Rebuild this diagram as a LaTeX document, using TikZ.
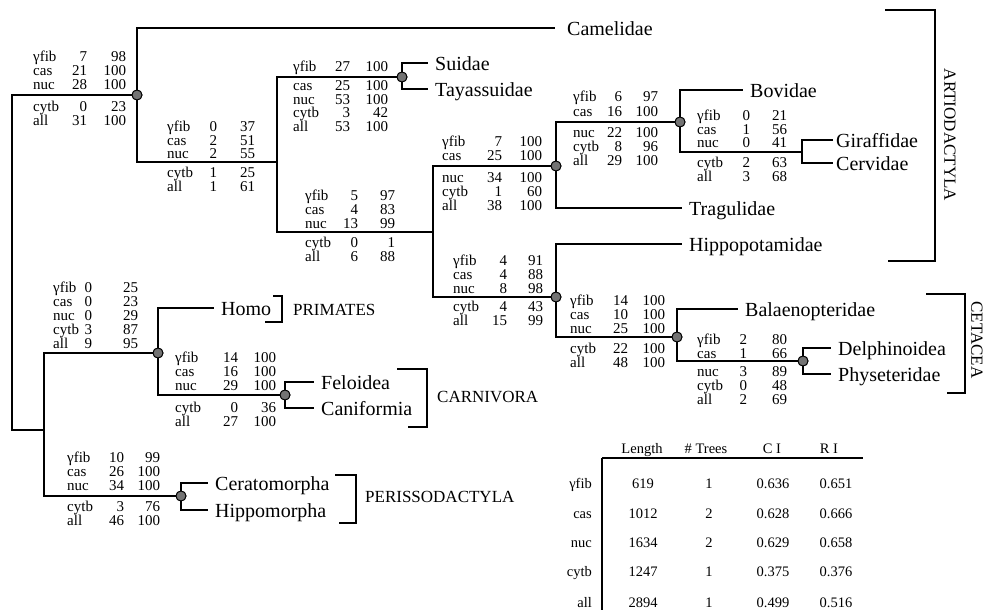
\documentclass[tikz,border=0pt]{standalone}
\usepackage{fontspec}
\setmainfont{Liberation Serif}
\newlength\statA
\newlength\statB
\newcommand\srow[3]{\hbox{\makebox[0pt][l]{#1}\hspace*{\statA}\makebox[0pt][r]{#2}\hspace*{\statB}\makebox[0pt][r]{#3}}}
\newcommand\stk[3]{\setlength\statA{#1pt}\setlength\statB{#2pt}\addtolength\statB{-#1pt}\vtop{\baselineskip=14pt\lineskiplimit=-100pt\lineskip=0pt #3}}
\tikzset{
  br/.style={line width=2.4pt},
  inode/.style={circle, draw=black, fill=black!55, line width=0.9pt, minimum size=10pt, inner sep=0pt},
  leaf/.style={font=\fontsize{20}{22}\selectfont, anchor=west, inner xsep=7pt, inner ysep=0pt, text height=15pt, text depth=0pt},
  grp/.style={font=\fontsize{17}{19}\selectfont, anchor=west, inner sep=0pt, text height=11.3pt, text depth=0pt},
  stat/.style={font=\fontsize{15}{14}\selectfont, anchor=base west, inner sep=0pt},
  brk/.style={line width=1.3pt},
  tab/.style={font=\fontsize{14.5}{16}\selectfont, inner sep=0pt, anchor=base},
}
\begin{document}
\begin{tikzpicture}[x=1pt,y=-1pt]
\useasboundingbox (0,0) rectangle (983,610);
% internal nodes
\coordinate (root) at (12,262);
\node[inode] (A) at (137,95) {};
\coordinate (N1) at (277,162);
\node[inode] (S) at (402,77) {};
\coordinate (N2) at (433,232);
\node[inode] (R1) at (556,166) {};
\node[inode] (Bv) at (680,122) {};
\coordinate (GC) at (802,152);
\node[inode] (H1) at (556,297) {};
\node[inode] (W) at (677,337) {};
\node[inode] (D) at (803,361) {};
\coordinate (N44) at (44,430);
\node[inode] (PC) at (158,353) {};
\node[inode] (Cn) at (285,395) {};
\node[inode] (Pr) at (181,496) {};
% leaves
\node[leaf, inner xsep=12pt] (camel) at (555,28) {Camelidae};
\node[leaf] (suid) at (428,63) {Suidae};
\node[leaf] (taya) at (428,89) {Tayassuidae};
\node[leaf] (bovi) at (743,90) {Bovidae};
\node[leaf, inner xsep=3pt] (gira) at (833,140) {Giraffidae};
\node[leaf, inner xsep=3pt] (cerv) at (833,163) {Cervidae};
\node[leaf] (trag) at (682,208) {Tragulidae};
\node[leaf] (hipp) at (682,244) {Hippopotamidae};
\node[leaf] (bala) at (738,309) {Balaenopteridae};
\node[leaf] (delp) at (831,348) {Delphinoidea};
\node[leaf] (phys) at (831,374) {Physeteridae};
\node[leaf] (homo) at (214,308) {Homo};
\node[leaf] (felo) at (314,382) {Feloidea};
\node[leaf] (cani) at (314,408) {Caniformia};
\node[leaf] (cera) at (208,483) {Ceratomorpha};
\node[leaf] (hipm) at (208,510) {Hippomorpha};
% branches
\draw[br] (root) |- (A);
\draw[br] (root) |- (N44);
\draw[br] (A) |- (camel);
\draw[br] (A) |- (N1);
\draw[br] (N1) |- (S);
\draw[br] (N1) |- (N2);
\draw[br] (S) |- (suid);
\draw[br] (S) |- (taya);
\draw[br] (N2) |- (R1);
\draw[br] (N2) |- (H1);
\draw[br] (R1) |- (Bv);
\draw[br] (R1) |- (trag);
\draw[br] (Bv) |- (bovi);
\draw[br] (Bv) |- (GC);
\draw[br] (GC) |- (gira);
\draw[br] (GC) |- (cerv);
\draw[br] (H1) |- (hipp);
\draw[br] (H1) |- (W);
\draw[br] (W) |- (bala);
\draw[br] (W) |- (D);
\draw[br] (D) |- (delp);
\draw[br] (D) |- (phys);
\draw[br] (N44) |- (PC);
\draw[br] (N44) |- (Pr);
\draw[br] (PC) |- (homo);
\draw[br] (PC) |- (Cn);
\draw[br] (Cn) |- (felo);
\draw[br] (Cn) |- (cani);
\draw[br] (Pr) |- (cera);
\draw[br] (Pr) |- (hipm);
% redraw circles on top
\foreach \n in {A,S,R1,Bv,H1,W,D,PC,Cn,Pr} \node[inode] at (\n) {};
% statistics
\node[stat] (s1a) at (33,62) {\stk{54}{93}{\srow{γfib}{7}{98}\srow{cas}{21}{100}\srow{nuc}{28}{100}}};
\node[stat] (s1b) at (33,111) {\stk{54}{93}{\srow{cytb}{0}{23}\srow{all}{31}{100}}};
\node[stat] (s2a) at (167,131) {\stk{50}{88}{\srow{γfib}{0}{37}\srow{cas}{2}{51}\srow{nuc}{2}{55}}};
\node[stat] (s2b) at (167,177) {\stk{50}{88}{\srow{cytb}{1}{25}\srow{all}{1}{61}}};
\node[stat] (s3a) at (293,72) {\stk{57}{95}{\srow{γfib}{27}{100}}};
\node[stat] (s3b) at (293,90) {\stk{57}{95}{\srow{cas}{25}{100}\srow{nuc}{53}{100}\srow{cytb}{3}{42}\srow{all}{53}{100}}};
\node[stat] (s4a) at (305,200) {\stk{53}{90}{\srow{γfib}{5}{97}\srow{cas}{4}{83}\srow{nuc}{13}{99}}};
\node[stat] (s4b) at (305,247) {\stk{53}{90}{\srow{cytb}{0}{1}\srow{all}{6}{88}}};
\node[stat] (s5a) at (442,146) {\stk{60}{100}{\srow{γfib}{7}{100}\srow{cas}{25}{100}}};
\node[stat] (s5b) at (442,182) {\stk{60}{100}{\srow{nuc}{34}{100}\srow{cytb}{1}{60}\srow{all}{38}{100}}};
\node[stat] (s6a) at (453,265) {\stk{54}{90}{\srow{γfib}{4}{91}\srow{cas}{4}{88}\srow{nuc}{8}{98}}};
\node[stat] (s6b) at (453,311) {\stk{54}{90}{\srow{cytb}{4}{43}\srow{all}{15}{99}}};
\node[stat] (s7a) at (573,102) {\stk{49}{85}{\srow{γfib}{6}{97}\srow{cas}{16}{100}}};
\node[stat] (s7b) at (573,137) {\stk{49}{85}{\srow{nuc}{22}{100}\srow{cytb}{8}{96}\srow{all}{29}{100}}};
\node[stat] (s8a) at (697,120) {\stk{53}{90}{\srow{γfib}{0}{21}\srow{cas}{1}{56}\srow{nuc}{0}{41}}};
\node[stat] (s8b) at (697,167) {\stk{53}{90}{\srow{cytb}{2}{63}\srow{all}{3}{68}}};
\node[stat] (s9a) at (570,305) {\stk{58}{95}{\srow{γfib}{14}{100}\srow{cas}{10}{100}\srow{nuc}{25}{100}}};
\node[stat] (s9b) at (570,353) {\stk{58}{95}{\srow{cytb}{22}{100}\srow{all}{48}{100}}};
\node[stat] (s10a) at (697,344) {\stk{50}{90}{\srow{γfib}{2}{80}\srow{cas}{1}{66}}};
\node[stat] (s10b) at (697,376) {\stk{50}{90}{\srow{nuc}{3}{89}\srow{cytb}{0}{48}\srow{all}{2}{69}}};
\node[stat] (s11a) at (53,292) {\stk{39}{85}{\srow{γfib}{0}{25}\srow{cas}{0}{23}\srow{nuc}{0}{29}\srow{cytb}{3}{87}\srow{all}{9}{95}}};
\node[stat] (s12a) at (175,362) {\stk{63}{101}{\srow{γfib}{14}{100}\srow{cas}{16}{100}\srow{nuc}{29}{100}}};
\node[stat] (s12b) at (175,412) {\stk{63}{101}{\srow{cytb}{0}{36}\srow{all}{27}{100}}};
\node[stat] (s13a) at (67,462) {\stk{57}{93}{\srow{γfib}{10}{99}\srow{cas}{26}{100}\srow{nuc}{34}{100}}};
\node[stat] (s13b) at (67,511) {\stk{57}{93}{\srow{cytb}{3}{76}\srow{all}{46}{100}}};
% group brackets and labels
\draw[brk] (885,10) -- (935,10) -- (935,261) -- (888,261);
\node[grp, rotate=-90, anchor=center] (artio) at (950,135) {ARTIODACTYLA};
\draw[brk] (926,294) -- (965,294) -- (965,393) -- (947,393);
\node[grp, rotate=-90, anchor=center] (ceta) at (977,340) {CETACEA};
\draw[brk] (273,296) -- (282,296) -- (282,322) -- (265,322);
\node[grp] (prim) at (293,310) {PRIMATES};
\draw[brk] (397,369) -- (427,369) -- (427,427) -- (408,427);
\node[grp] (carn) at (437,397) {CARNIVORA};
\draw[brk] (335,475) -- (356,475) -- (356,523) -- (339,523);
\node[grp] (peri) at (365,497) {PERISSODACTYLA};
% table
\draw[line width=1.3pt] (602,458) -- (863,458);
\draw[line width=1.8pt] (602,458) -- (602,610);
\node[tab] (hlen) at (642,453) {Length};
\node[tab] (htr) at (706,453) {\# Trees};
\node[tab] (hci) at (772,453) {C I};
\node[tab] (hri) at (829,453) {R I};
\foreach \lab/\len/\tr/\ci/\ri/\yy [count=\i] in {γfib/619/1/0.636/0.651/488, cas/1012/2/0.628/0.666/518, nuc/1634/2/0.629/0.658/547, cytb/1247/1/0.375/0.376/576, all/2894/1/0.499/0.516/607}{
  \node[tab, anchor=base east] (tl\i) at (592,\yy) {\lab};
  \node[tab] (tn\i) at (643,\yy) {\len};
  \node[tab] (tt\i) at (709,\yy) {\tr};
  \node[tab] (tc\i) at (773,\yy) {\ci};
  \node[tab] (tr\i) at (836,\yy) {\ri};
}
\end{tikzpicture}
\end{document}
